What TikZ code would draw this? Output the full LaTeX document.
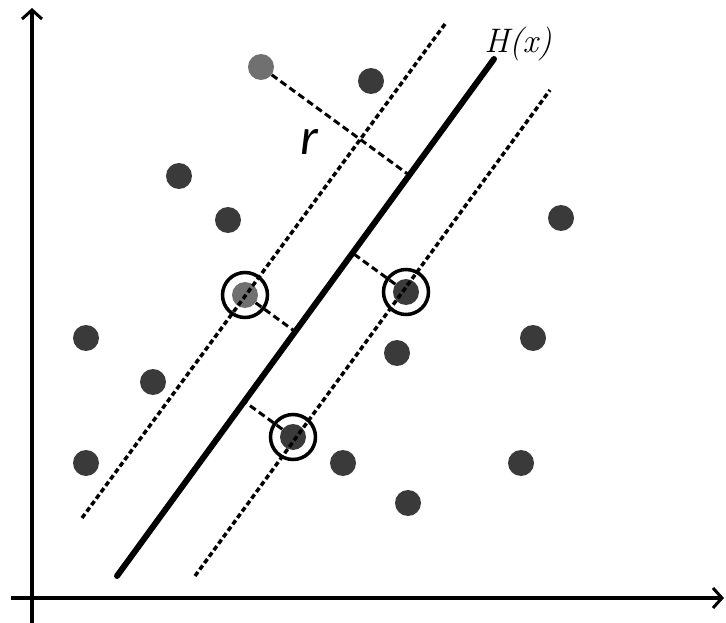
\documentclass[tikz,border=0pt]{standalone}
\usepackage{fontspec}
\newfontfamily\labelfont{Carlito}
\usetikzlibrary{arrows.meta, calc}
\definecolor{pointdark}{HTML}{3A3A3A}
\definecolor{pointlight}{HTML}{707070}
\tikzset{
  axis/.style={line width=3.5pt, -{Straight Barb[length=9pt, width=20pt, line width=3pt]}},
  hyperplane/.style={line width=6pt, line cap=round},
  margin/.style={line width=3.5pt, dash pattern=on 5pt off 3pt},
  gaplink/.style={line width=3pt, dash pattern=on 7pt off 4pt},
  sample/.style={circle, fill=pointdark, minimum size=26pt, inner sep=0pt},
  faded/.style={fill=pointlight},
  support/.style={circle, draw=black, line width=3.5pt, minimum size=45pt, inner sep=0pt},
}

\begin{document}
\begin{tikzpicture}[x=1pt, y=-1pt]

  \useasboundingbox (0,0) rectangle (726,623);

  % axes
  \draw[axis] (32,623) -- (32,8);
  \draw[axis] (11,598) -- (724,598);

  % samples
  \node[sample, faded] (p1) at (261,67) {};
  \foreach \x/\y [count=\i from 2] in {371/81, 179/176, 228/220, 561/218,
      86/338, 153/382, 397/353, 533/338, 86/463, 343/463, 521/463, 408/503}
    \node[sample] (p\i) at (\x,\y) {};

  % support vectors
  \node[sample, faded] (sv1) at (245,295) {};
  \node[sample] (sv2) at (406,292) {};
  \node[sample] (sv3) at (293,437) {};
  \foreach \s in {sv1, sv2, sv3}
    \node[support] at (\s) {};

  % separating line and margins
  \coordinate (h1) at (117,576);
  \coordinate (h2) at (494,59);
  \coordinate (ma1) at (82,518);
  \coordinate (ma2) at (445,24);
  \coordinate (mb1) at (195,576);
  \coordinate (mb2) at (550,90);

  \draw[margin] (ma1) -- (ma2);
  \draw[margin] (mb1) -- (mb2);
  \draw[hyperplane] (h1) -- (h2);

  % distances to the line
  \draw[gaplink] (p1) -- ($(h1)!(p1)!(h2)$);
  \foreach \s in {sv1, sv2, sv3}
    \draw[gaplink] (\s) -- ($(h1)!(\s)!(h2)$);

  \node[font=\fontsize{34}{34}\selectfont] (hlabel) at (518,44) {\textit{H(x)}};
  \node[font=\labelfont\fontsize{52}{52}\selectfont\itshape] (rlabel) at (309,142) {r};

\end{tikzpicture}
\end{document}
